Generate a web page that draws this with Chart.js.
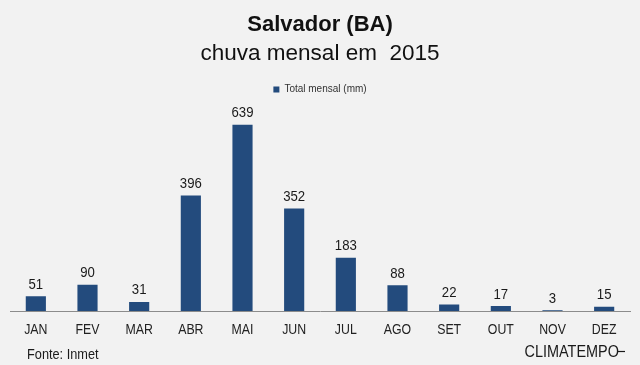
<!DOCTYPE html>
<html>
<head>
<meta charset="utf-8">
<script src="https://cdn.jsdelivr.net/npm/chart.js@4/dist/chart.umd.min.js"></script>
<style>
  html, body { margin: 0; padding: 0; background: #f2f2f2; }
  #wrap { width: 640px; height: 365px; }
</style>
</head>
<body>
<div id="wrap"><canvas id="chuvaChart"></canvas></div>
<script>
const months = ['JAN', 'FEV', 'MAR', 'ABR', 'MAI', 'JUN', 'JUL', 'AGO', 'SET', 'OUT', 'NOV', 'DEZ'];
const rainMm = [51, 90, 31, 396, 639, 352, 183, 88, 22, 17, 3, 15];
const seriesLabel = 'Total mensal (mm)';
const titleLines = ['Salvador (BA)', 'chuva mensal em  2015'];
const sourceText = 'Fonte: Inmet';
const brandText = 'CLIMATEMPO';

const barColor = '#234b7d';
const regular = "'Liberation Sans', Arial, sans-serif";
const squeeze = 0.85; // the original uses a condensed face

// text drawn horizontally squeezed, to look like a narrow font
function narrowText(ctx, text, x, y, size, align) {
    ctx.save();
    ctx.font = size + 'px ' + regular;
    ctx.textAlign = align;
    ctx.translate(x, y);
    ctx.scale(squeeze, 1);
    ctx.fillText(text, 0, 0);
    ctx.restore();
}

const backgroundPlugin = {
    id: 'bg',
    beforeDraw(chart) {
        const ctx = chart.ctx;
        ctx.save();
        ctx.fillStyle = '#f2f2f2';
        ctx.fillRect(0, 0, chart.width, chart.height);
        ctx.restore();
    }
};

// value on top of each bar + month names under the axis
const barTexts = {
    id: 'barTexts',
    afterDatasetsDraw(chart) {
        const ctx = chart.ctx;
        const meta = chart.getDatasetMeta(0);
        const xScale = chart.scales.x;
        ctx.save();
        ctx.fillStyle = '#1a1a1a';
        ctx.textBaseline = 'alphabetic';
        meta.data.forEach((bar, i) => {
            narrowText(ctx, String(rainMm[i]), bar.x, bar.y - 7.5, 15.5, 'center');
        });
        ctx.fillStyle = '#222';
        chart.data.labels.forEach((lab, i) => {
            narrowText(ctx, lab, xScale.getPixelForValue(i), xScale.top + 22.5, 14.5, 'center');
        });
        ctx.restore();
    }
};

const footerText = {
    id: 'footerText',
    afterDraw(chart) {
        const ctx = chart.ctx;
        ctx.save();
        ctx.fillStyle = '#1a1a1a';
        ctx.textBaseline = 'alphabetic';
        narrowText(ctx, sourceText, 27, 359, 15, 'left');
        narrowText(ctx, brandText, 619, 357, 17, 'right');
        ctx.strokeStyle = '#1a1a1a';
        ctx.lineWidth = 1.2;
        ctx.beginPath();
        ctx.moveTo(618, 351.5);
        ctx.lineTo(625, 351.5);
        ctx.stroke();
        ctx.restore();
    }
};

const ctx = document.getElementById('chuvaChart').getContext('2d');
new Chart(ctx, {
    type: 'bar',
    data: {
        labels: months,
        datasets: [{
            label: seriesLabel,
            data: rainMm,
            backgroundColor: barColor,
            barPercentage: 0.39,
            categoryPercentage: 1.0
        }]
    },
    options: {
        responsive: true,
        maintainAspectRatio: false,
        animation: false,
        layout: {
            padding: { left: 10, right: 10, top: 0, bottom: 54 }
        },
        plugins: {
            title: {
                display: true,
                text: titleLines[0],
                color: '#111',
                font: { family: regular, size: 22, weight: 'bold' },
                padding: { top: 12, bottom: 0 }
            },
            subtitle: {
                display: true,
                text: titleLines[1],
                color: '#111',
                font: { family: regular, size: 22.5, weight: 'normal' },
                padding: { top: 2, bottom: 7 }
            },
            legend: {
                display: true,
                position: 'top',
                labels: {
                    boxWidth: 6,
                    boxHeight: 6,
                    color: '#333',
                    font: { family: regular, size: 10 }
                }
            },
            tooltip: { enabled: false }
        },
        scales: {
            x: {
                grid: { display: false, drawTicks: false, tickLength: 0 },
                border: { display: true, color: '#8c8c8c', width: 1 },
                ticks: { display: false }
            },
            y: {
                display: false,
                min: 0,
                max: 709
            }
        }
    },
    plugins: [backgroundPlugin, barTexts, footerText]
});
</script>
</body>
</html>
